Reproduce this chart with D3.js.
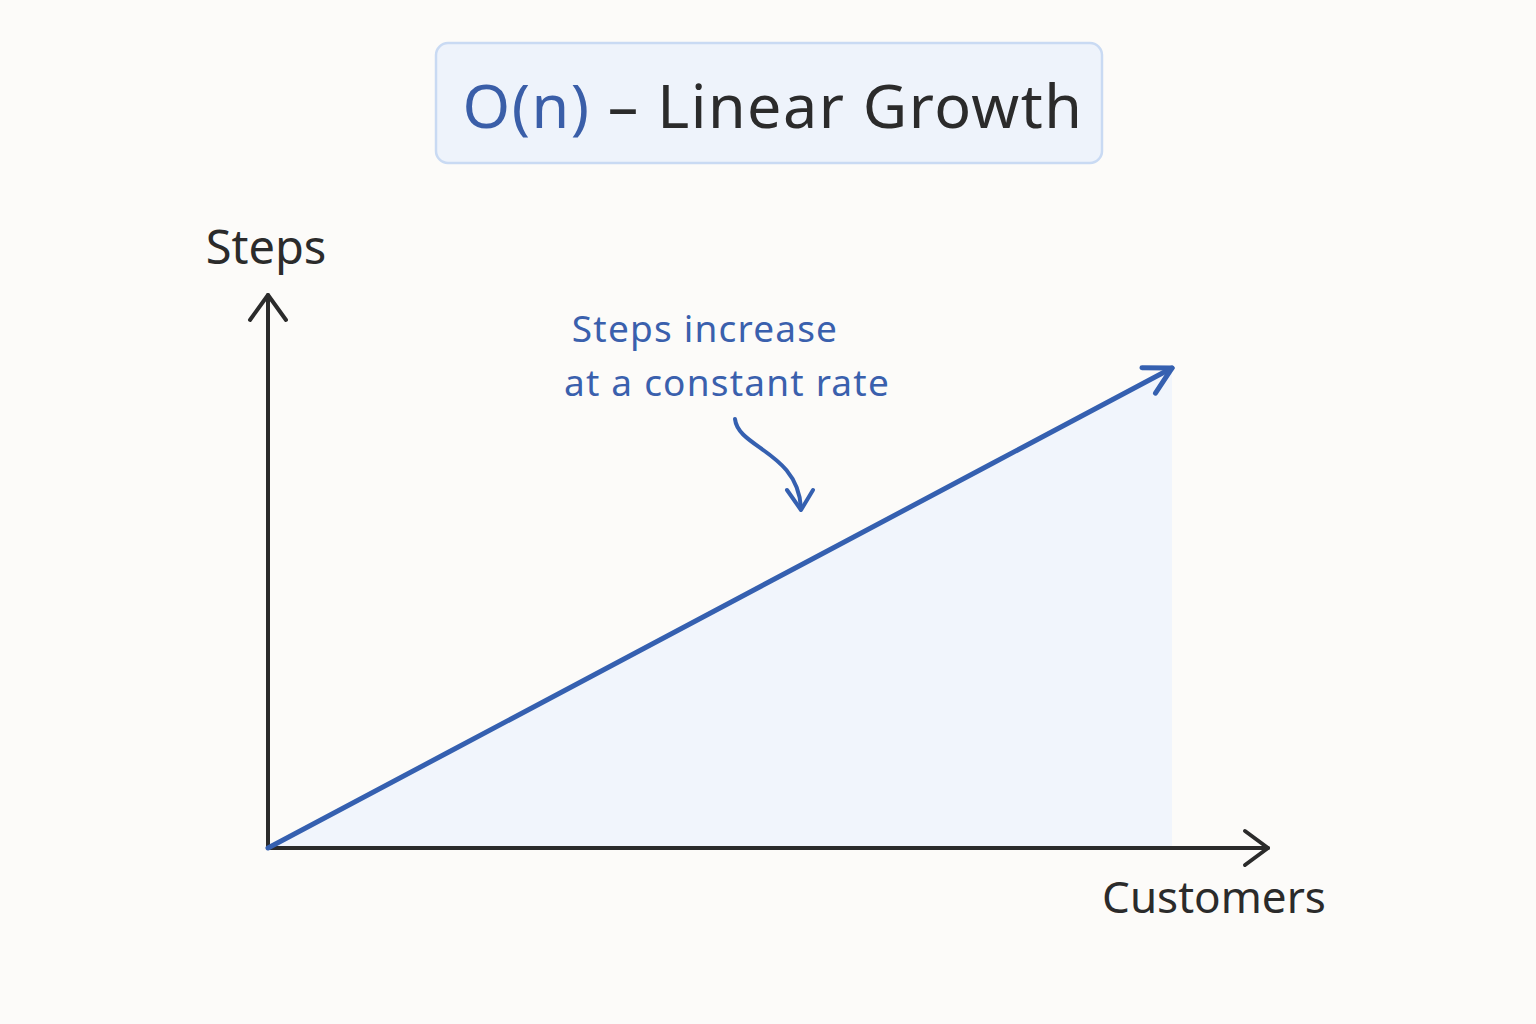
<!DOCTYPE html>
<html>
<head>
<meta charset="utf-8">
<script src="https://cdn.jsdelivr.net/npm/d3@7"></script>
<style>
  body { margin: 0; background: #fcfbf9; }
  svg { display: block; }
  text { font-family: "Noto Sans", "Open Sans", sans-serif; }
</style>
</head>
<body>
<svg id="chart"></svg>
<script>
// Data
const customers = [0, 2, 4, 6, 8, 10];
const steps = [0, 2, 4, 6, 8, 10];
const titleParts = ["O(n)", " – Linear Growth"];
const xLabel = "Customers";
const yLabel = "Steps";
const noteLines = ["Steps increase", "at a constant rate"];

const width = 1536, height = 1024;
const blue = "#3560b0", ink = "#2b2b2b";

const svg = d3.select("#chart")
  .attr("width", width)
  .attr("height", height);

svg.append("rect").attr("width", width).attr("height", height).attr("fill", "#fcfbf9");

// Scales
const xScale = d3.scaleLinear().domain([0, 10]).range([268, 1172]);
const yScale = d3.scaleLinear().domain([0, 10]).range([848, 368]);
const points = customers.map((c, i) => ({ x: c, y: steps[i] }));

// Title box
svg.append("rect")
  .attr("x", 436).attr("y", 43)
  .attr("width", 666).attr("height", 120)
  .attr("rx", 12)
  .attr("fill", "#eef3fb")
  .attr("stroke", "#c9daf3")
  .attr("stroke-width", 2.5);

const title = svg.append("text")
  .attr("x", 773).attr("y", 128)
  .attr("text-anchor", "middle")
  .attr("font-size", 61)
  .attr("letter-spacing", 1.5);
title.append("tspan").attr("fill", "#3a5ea8").text(titleParts[0]);
title.append("tspan").attr("fill", ink).text(titleParts[1]);

// Area under the line
const area = d3.area()
  .x(d => xScale(d.x))
  .y0(yScale(0))
  .y1(d => yScale(d.y));

svg.append("path")
  .datum(points)
  .attr("d", area)
  .attr("fill", "#f1f5fc");

// Axes (hand-drawn style with arrowheads)
const xEnd = xScale.invert(1268), yEnd = yScale.invert(295);
const axisG = svg.append("g")
  .attr("stroke", ink)
  .attr("stroke-width", 4)
  .attr("stroke-linecap", "round")
  .attr("stroke-linejoin", "round")
  .attr("fill", "none");

axisG.append("path")
  .attr("d", `M${xScale(0)},${yScale(yEnd)} V${yScale(0)} H${xScale(xEnd)}`);
axisG.append("path")
  .attr("d", `M${xScale(0) - 18},${yScale(yEnd) + 25} L${xScale(0)},${yScale(yEnd)} L${xScale(0) + 18},${yScale(yEnd) + 25}`);
axisG.append("path")
  .attr("d", `M${xScale(xEnd) - 23},${yScale(0) - 17} L${xScale(xEnd)},${yScale(0)} L${xScale(xEnd) - 23},${yScale(0) + 17}`);

svg.append("text")
  .attr("x", 266).attr("y", 264)
  .attr("text-anchor", "middle")
  .attr("font-size", 47)
  .attr("fill", ink)
  .text(yLabel);

svg.append("text")
  .attr("x", 1214).attr("y", 913)
  .attr("text-anchor", "middle")
  .attr("font-size", 44)
  .attr("fill", ink)
  .text(xLabel);

// The linear line
const line = d3.line()
  .x(d => xScale(d.x))
  .y(d => yScale(d.y));

svg.append("path")
  .datum(points)
  .attr("d", line)
  .attr("fill", "none")
  .attr("stroke", blue)
  .attr("stroke-width", 5)
  .attr("stroke-linecap", "round");

// Arrowhead at the end of the line
const last = points[points.length - 1];
const ex = xScale(last.x), ey = yScale(last.y);
const ang = Math.atan2(ey - yScale(0), ex - xScale(0));
const headLen = 30, spread = 0.5;
svg.append("path")
  .attr("d", `M${ex - headLen * Math.cos(ang - spread)},${ey - headLen * Math.sin(ang - spread)} L${ex},${ey} L${ex - headLen * Math.cos(ang + spread)},${ey - headLen * Math.sin(ang + spread)}`)
  .attr("fill", "none")
  .attr("stroke", blue)
  .attr("stroke-width", 5)
  .attr("stroke-linecap", "round")
  .attr("stroke-linejoin", "round");

// Annotation
svg.selectAll(".note")
  .data(noteLines)
  .enter()
  .append("text")
  .attr("class", "note")
  .attr("x", (d, i) => i === 0 ? 705 : 727)
  .attr("y", (d, i) => 342 + i * 54)
  .attr("text-anchor", "middle")
  .attr("font-size", 37)
  .attr("letter-spacing", 1.2)
  .attr("fill", "#3a60ad")
  .text(d => d);

svg.append("path")
  .attr("d", "M735,419 C738,448 798,452 801,508")
  .attr("fill", "none")
  .attr("stroke", blue)
  .attr("stroke-width", 4)
  .attr("stroke-linecap", "round");
svg.append("path")
  .attr("d", "M787,490 L801,510 L813,490")
  .attr("fill", "none")
  .attr("stroke", blue)
  .attr("stroke-width", 4)
  .attr("stroke-linecap", "round")
  .attr("stroke-linejoin", "round");
</script>
</body>
</html>
